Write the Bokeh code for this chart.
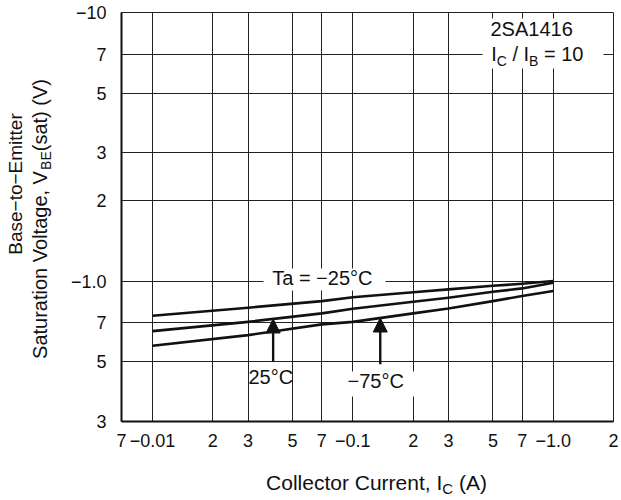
import math
import numpy as np
from bokeh.plotting import figure
from bokeh.models import FixedTicker, Label, BoxAnnotation, Arrow, NormalHead, Grid
from bokeh.embed import file_html
from bokeh.resources import INLINE

# ---------------- data ----------------
ic = [0.01, 0.03, 0.07, 0.1, 0.2, 0.3, 0.5, 0.7, 1.0]
vbe_ta_m25 = [0.743, 0.796, 0.842, 0.870, 0.908, 0.931, 0.961, 0.977, 1.0]
vbe_ta_25 = [0.651, 0.705, 0.758, 0.789, 0.837, 0.867, 0.912, 0.939, 0.986]
vbe_ta_m75 = [0.574, 0.629, 0.690, 0.705, 0.758, 0.791, 0.842, 0.880, 0.918]

x_tick_vals = [0.007, 0.01, 0.02, 0.03, 0.05, 0.07, 0.1, 0.2, 0.3, 0.5, 0.7, 1.0, 2.0]
x_tick_labels = ["7", "\u22120.01", "2", "3", "5", "7", "\u22120.1", "2", "3", "5", "7", "\u22121.0", "2"]
y_tick_vals = [0.3, 0.5, 0.7, 1.0, 2.0, 3.0, 5.0, 7.0, 10.0]
y_tick_labels = ["3", "5", "7", "\u22121.0", "2", "3", "5", "7", "\u221210"]

arrow_x = [0.04, 0.137]
arrow_from_y = [0.5, 0.49]

# ---------------- layout helpers ----------------
FONT = "Liberation Sans"
INK = "#111111"
CW, CH = 621, 500                       # canvas
FL, FR, FT, FB = 121, 613, 12, 421      # chart area on the canvas (px)
X0, X1 = 0.007, 2.0
Y0, Y1 = 0.3, 10.0
BASE_K = 0.4                            # baseline correction (fraction of font size)


def xd(px):
    return 10 ** (math.log10(X0) + (px - FL) / (FR - FL) * math.log10(X1 / X0))


def yd(py):
    return 10 ** (math.log10(Y0) + (FB - py) / (FB - FT) * math.log10(Y1 / Y0))


W = {' ': 278, '(': 333, ')': 333, ',': 278, '\u2212': 584, '-': 333, '.': 278, '/': 278,
     '=': 584, '\u00b0': 400, 'A': 667, 'B': 667, 'C': 722, 'E': 667, 'I': 278, 'S': 667,
     'T': 611, 'V': 667, 'a': 556, 'b': 556, 'c': 500, 'e': 556, 'g': 556, 'i': 222,
     'l': 222, 'm': 833, 'n': 556, 'o': 556, 'r': 333, 's': 500, 't': 278, 'u': 556}


def tw(s, size):
    return sum(W.get(ch, 556) for ch in s) / 1000.0 * size


p = figure(width=CW, height=CH, x_axis_type="log", y_axis_type="log",
           x_range=(xd(0), xd(CW)), y_range=(yd(CH), yd(0)),
           output_backend="svg", toolbar_location=None,
           min_border_left=0, min_border_right=0, min_border_top=0, min_border_bottom=0)
p.background_fill_color = "white"
p.border_fill_color = "white"
p.outline_line_color = None

p.xaxis.ticker = FixedTicker(ticks=x_tick_vals)
p.yaxis.ticker = FixedTicker(ticks=y_tick_vals)
p.xaxis.major_label_overrides = {v: l for v, l in zip(x_tick_vals, x_tick_labels)}
p.yaxis.major_label_overrides = {v: l for v, l in zip(y_tick_vals, y_tick_labels)}
p.xaxis.fixed_location = Y0
p.yaxis.fixed_location = X0
p.xaxis.bounds = (X0, X1)
p.yaxis.bounds = (Y0, Y1)
for ax in (p.xaxis[0], p.yaxis[0]):
    ax.major_tick_out = 0
    ax.major_tick_in = 0
    ax.major_tick_line_color = None
    ax.minor_tick_line_color = None
    ax.axis_line_color = INK
    ax.axis_line_width = 2
    ax.major_label_text_font = FONT
    ax.major_label_text_font_size = "18px"
    ax.major_label_text_color = INK
p.xaxis.major_label_standoff = 12
p.yaxis.major_label_standoff = 15

GRID_COLOR = "#222222"
if "cross_bounds" in Grid.properties():
    p.xgrid.ticker = FixedTicker(ticks=x_tick_vals)
    p.ygrid.ticker = FixedTicker(ticks=y_tick_vals)
    p.xgrid.bounds = (X0, X1)
    p.xgrid.cross_bounds = (Y0, Y1)
    p.ygrid.bounds = (Y0, Y1)
    p.ygrid.cross_bounds = (X0, X1)
    for g in (p.xgrid[0], p.ygrid[0]):
        g.grid_line_color = GRID_COLOR
        g.grid_line_width = 1
        g.grid_line_alpha = 1
else:
    p.xgrid.visible = False
    p.ygrid.visible = False
    p.segment(x0=x_tick_vals, x1=x_tick_vals, y0=[Y0] * len(x_tick_vals), y1=[Y1] * len(x_tick_vals),
              line_color=GRID_COLOR, line_width=1)
    p.segment(x0=[X0] * len(y_tick_vals), x1=[X1] * len(y_tick_vals), y0=y_tick_vals, y1=y_tick_vals,
              line_color=GRID_COLOR, line_width=1)

# curves
for ys in (vbe_ta_m25, vbe_ta_25, vbe_ta_m75):
    p.line(ic, ys, line_color=INK, line_width=2.6, line_join="round")

# white masks behind annotation texts
masks = [(482, 603, 18, 68), (263, 385, 268, 290), (249, 291, 364, 392), (344, 416, 371, 396)]
for l, r, t, b in masks:
    p.add_layout(BoxAnnotation(left=xd(l), right=xd(r), top=yd(t), bottom=yd(b),
                               fill_color="white", fill_alpha=1, line_color=None,
                               level="annotation"))

# arrows pointing at curves
logx = np.log10(ic)
for ax_, y0, ys in zip(arrow_x, arrow_from_y, (vbe_ta_25, vbe_ta_m75)):
    y_tip = 10 ** np.interp(math.log10(ax_), logx, np.log10(ys))
    p.add_layout(Arrow(x_start=ax_, y_start=y0, x_end=ax_, y_end=y_tip,
                       line_color=INK, line_width=2.4,
                       end=NormalHead(size=14, fill_color=INK, line_color=INK, line_width=1)))


def lab(text, px, py, size=20, align="left", angle=0.0):
    # (px, py): wanted baseline anchor on the canvas
    if angle == 0.0:
        py = py - BASE_K * size
    else:
        px = px - BASE_K * size
    p.add_layout(Label(x=xd(px), y=yd(py), text=text, text_font=FONT,
                       text_font_size=f"{size}px", text_color=INK, text_align=align,
                       text_baseline="alphabetic", angle=angle))


def rich_total(parts, size=20, sub=14):
    return sum(tw(t, sub if s else size) for t, s in parts)


def rich(parts, px, py, size=20, sub=14, shift=4, vertical=False):
    # parts: list of (text, is_subscript); spaces at the ends are turned into offsets
    pos = 0.0
    for t, s in parts:
        sz = sub if s else size
        core = t.strip()
        lead = tw(t[:len(t) - len(t.lstrip())], sz)
        if vertical:
            lab(core, px + (shift if s else 0), py - pos - lead, size=sz, angle=math.pi / 2)
        else:
            lab(core, px + pos + lead, py + (shift if s else 0), size=sz)
        pos += tw(t, sz)


# annotations
lab("2SA1416", 490, 36.7, size=20)
rich([("I", False), ("C", True), (" / I", False), ("B", True), (" = 10", False)], 490.7, 61.7)
lab("Ta = \u221225\u00b0C", 271.7, 285)
lab("25\u00b0C", 248, 384)
lab("\u221275\u00b0C", 347, 388)

# x axis title
xparts = [("Collector Current, I", False), ("C", True), (" (A)", False)]
rich(xparts, 376 - rich_total(xparts, size=21, sub=15) / 2, 490, size=21, sub=15)

# y axis title (two rotated lines)
lab("Base\u2212to\u2212Emitter", 23, 183.5, size=19, align="center", angle=math.pi / 2)
yparts = [("Saturation Voltage, V", False), ("BE", True), ("(sat) (V)", False)]
rich(yparts, 47, 218.5 + rich_total(yparts) / 2, vertical=True)

open("out.html", "w").write(file_html(p, INLINE))
